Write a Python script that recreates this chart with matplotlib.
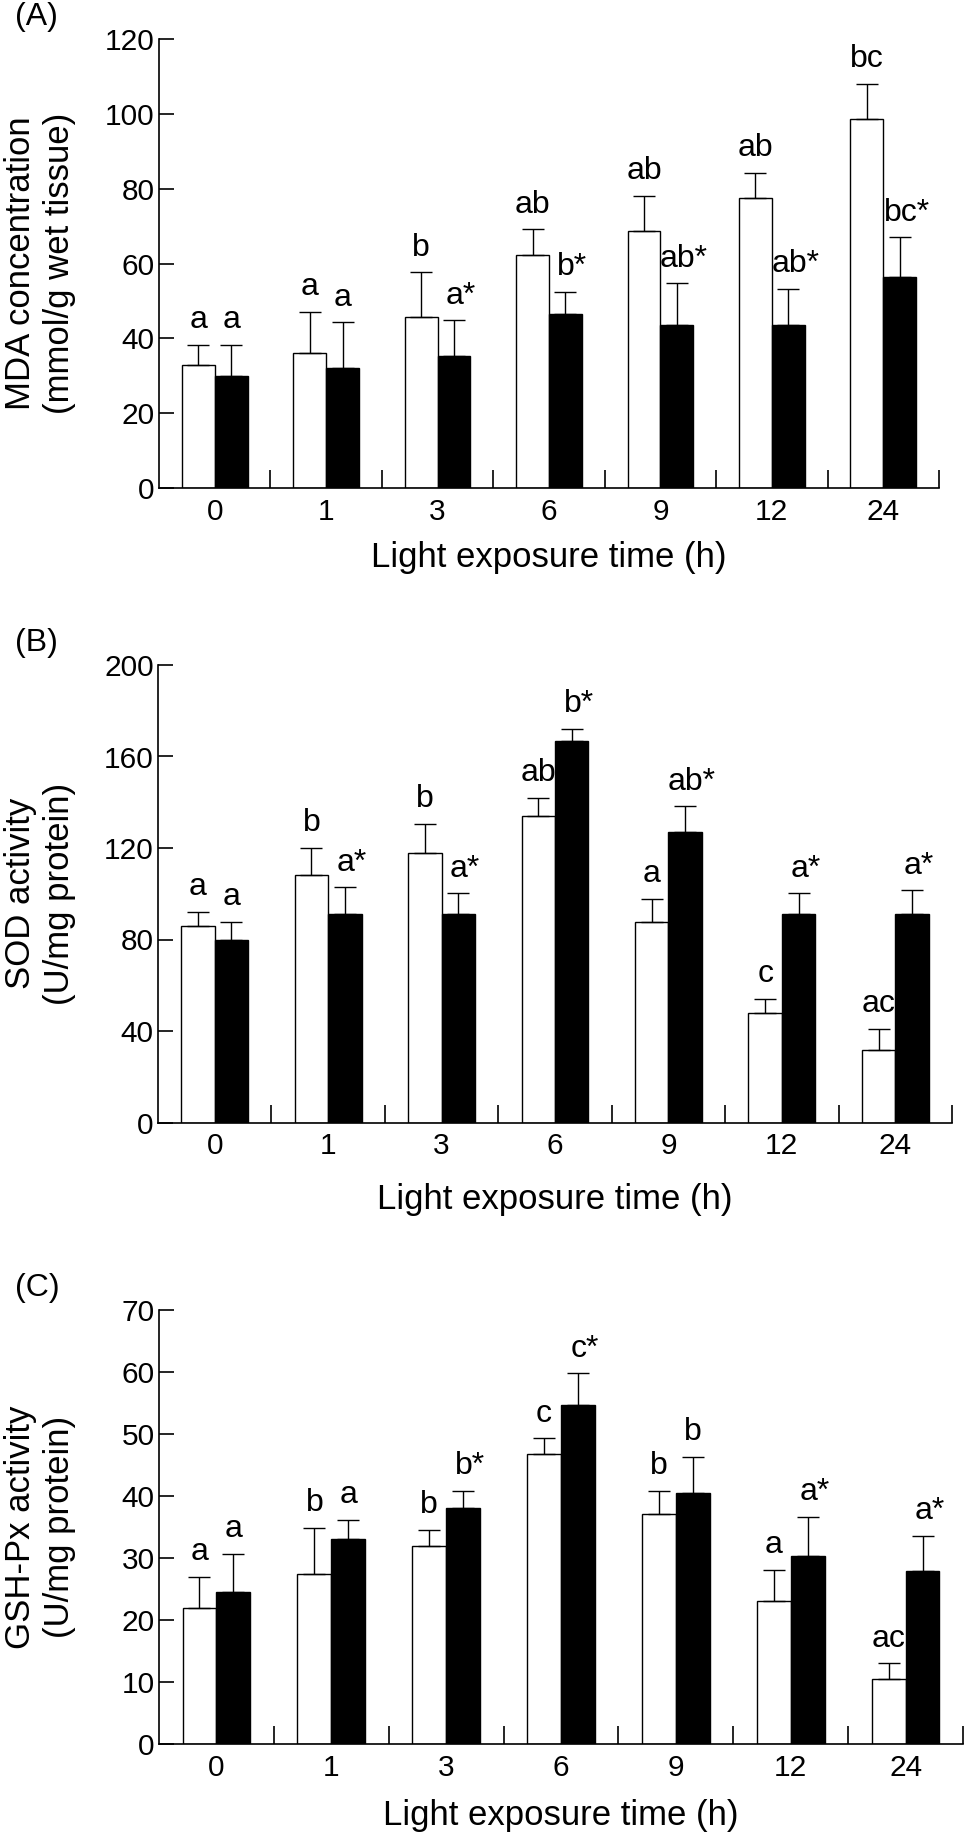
"""
Three stacked bar panels (MDA, SOD, GSH-Px) against light exposure time,
white vs black bars with upper SD whiskers and significance letters.
"""

import matplotlib
matplotlib.use("Agg")
import matplotlib.pyplot as plt
import matplotlib.transforms as mtransforms
import numpy as np

plt.rcParams["font.family"] = ["Liberation Sans", "DejaVu Sans"]

times = ["0", "1", "3", "6", "9", "12", "24"]
xlabel_text = "Light exposure time (h)"

# (A) MDA
mda_white = [33.0, 36.0, 45.8, 62.4, 68.6, 77.6, 98.8]
mda_white_sd = [5.2, 11.2, 11.9, 6.8, 9.6, 6.7, 9.2]
mda_black = [30.0, 32.2, 35.3, 46.6, 43.5, 43.5, 56.5]
mda_black_sd = [8.2, 12.1, 9.5, 5.9, 11.2, 9.8, 10.5]
mda_white_lbl = ["a", "a", "b", "ab", "ab", "ab", "bc"]
mda_black_lbl = ["a", "a", "a*", "b*", "ab*", "ab*", "bc*"]

# (B) SOD
sod_white = [86.1, 108.4, 117.9, 133.9, 87.8, 47.7, 31.5]
sod_white_sd = [6.0, 11.6, 12.6, 8.1, 10.1, 6.2, 9.3]
sod_black = [79.7, 91.2, 91.2, 166.8, 127.2, 91.2, 91.2]
sod_black_sd = [8.1, 11.6, 9.0, 5.3, 11.0, 9.0, 10.3]
sod_white_lbl = ["a", "b", "b", "ab", "a", "c", "ac"]
sod_black_lbl = ["a", "a*", "a*", "b*", "ab*", "a*", "a*"]

# (C) GSH-Px
gsh_white = [21.9, 27.4, 32.0, 46.8, 37.1, 23.1, 10.5]
gsh_white_sd = [5.1, 7.5, 2.5, 2.5, 3.7, 5.0, 2.5]
gsh_black = [24.5, 33.0, 38.1, 54.6, 40.5, 30.4, 27.9]
gsh_black_sd = [6.2, 3.2, 2.7, 5.2, 5.8, 6.2, 5.7]
gsh_white_lbl = ["a", "b", "b", "c", "b", "a", "ac"]
gsh_black_lbl = ["a", "a", "b*", "c*", "b", "a*", "a*"]

W, H = 970, 1837
TICK_FS = 21.5   # tick numbers
LABEL_FS = 25    # axis titles look looser/wider than the tick digits
ANNOT_FS = 23
BAR_W = 0.295


def px_axes(left, right, top, bottom):
    return [left / W, 1 - bottom / H, (right - left) / W, (bottom - top) / H]


def label_bars(ax, xs, tops, labels):
    for x, t, lab in zip(xs, tops, labels):
        dx = 5 if lab.endswith("*") else 0
        ax.annotate(lab, (x, t), xytext=(dx, 7), textcoords="offset points",
                    ha="center", va="bottom", fontsize=ANNOT_FS)


def draw_panel(fig, rect, tag, tag_y, white, white_sd, black, black_sd,
               white_lbl, black_lbl, ymax, ystep, ylabel, xlabel_y):
    ax = fig.add_axes(rect)
    x = np.arange(len(times))
    xw = x - BAR_W / 2
    xb = x + BAR_W / 2

    ax.bar(xw, white, BAR_W, color="white", edgecolor="black", linewidth=1.0, zorder=2)
    ax.bar(xb, black, BAR_W, color="black", edgecolor="black", linewidth=1.0, zorder=2)
    zeros = np.zeros(len(times))
    for xs, m, sd in ((xw, white, white_sd), (xb, black, black_sd)):
        ax.errorbar(xs, m, yerr=[zeros, sd], fmt="none", ecolor="black",
                    elinewidth=1.0, capsize=8, capthick=1.0, zorder=3)

    label_bars(ax, xw, np.add(white, white_sd), white_lbl)
    label_bars(ax, xb, np.add(black, black_sd), black_lbl)

    ax.set_xlim(-0.5, len(times) - 0.5)
    ax.set_ylim(0, ymax)
    ax.set_yticks(np.arange(0, ymax + 1, ystep))
    ax.set_xticks(x)
    ax.set_xticklabels(times)
    ax.set_xticks(np.arange(0.5, len(times), 1.0), minor=True)

    for s in ("top", "right"):
        ax.spines[s].set_visible(False)
    for s in ("left", "bottom"):
        ax.spines[s].set_linewidth(1.2)

    ax.tick_params(axis="y", direction="in", length=11, width=1.2,
                   labelsize=TICK_FS, pad=3)
    ax.tick_params(axis="x", which="major", length=0, labelsize=TICK_FS, pad=7)
    ax.tick_params(axis="x", which="minor", direction="in", length=13, width=1.2)

    ax.set_ylabel(ylabel, fontsize=LABEL_FS, linespacing=1.2, va="center")
    ax.yaxis.set_label_coords(40 / W, 0.5,
                              transform=mtransforms.blended_transform_factory(
                                  fig.transFigure, ax.transAxes))
    ax.set_xlabel(xlabel_text, fontsize=LABEL_FS, va="center")
    ax.xaxis.set_label_coords(0.5, 1 - xlabel_y / H,
                              transform=mtransforms.blended_transform_factory(
                                  ax.transAxes, fig.transFigure))

    fig.text(15 / W, 1 - tag_y / H, tag, fontsize=ANNOT_FS, ha="left", va="center")
    return ax


fig = plt.figure(figsize=(W / 100, H / 100), dpi=100)

draw_panel(fig, px_axes(159, 939, 39.3, 488), "(A)", 17,
           mda_white, mda_white_sd, mda_black, mda_black_sd,
           mda_white_lbl, mda_black_lbl, 120, 20,
           "MDA concentration\n(mmol/g wet tissue)", 557)

draw_panel(fig, px_axes(158, 952, 665, 1122.5), "(B)", 643,
           sod_white, sod_white_sd, sod_black, sod_black_sd,
           sod_white_lbl, sod_black_lbl, 200, 40,
           "SOD activity\n(U/mg protein)", 1199)

draw_panel(fig, px_axes(159, 963, 1310, 1744), "(C)", 1288,
           gsh_white, gsh_white_sd, gsh_black, gsh_black_sd,
           gsh_white_lbl, gsh_black_lbl, 70, 10,
           "GSH-Px activity\n(U/mg protein)", 1816)

fig.savefig("out.png", dpi=100)
